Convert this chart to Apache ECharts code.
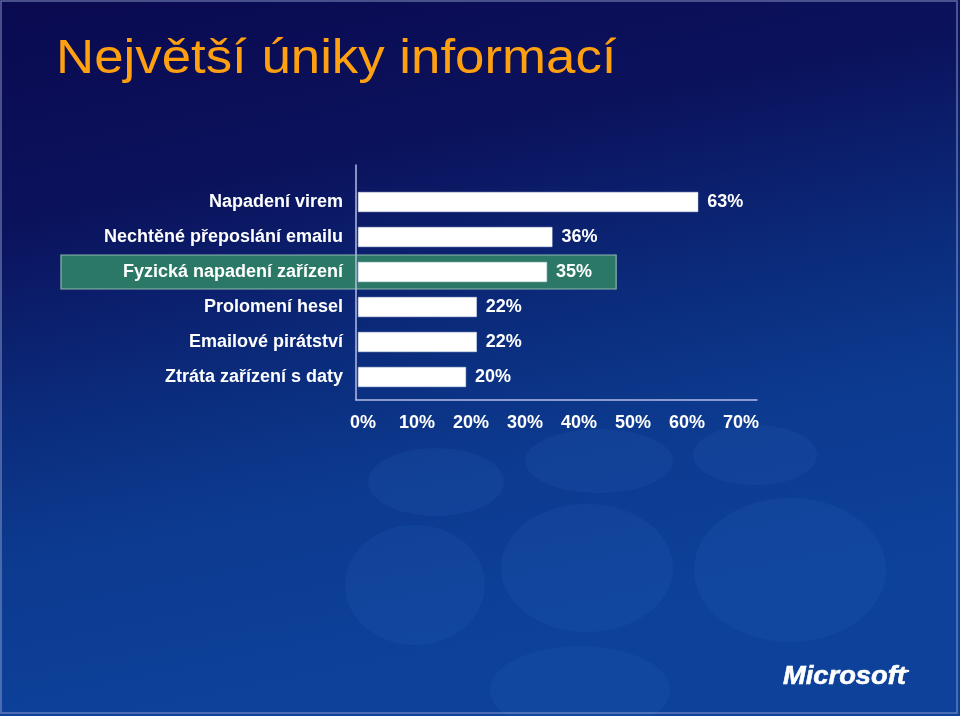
<!DOCTYPE html>
<html>
<head>
<meta charset="utf-8">
<script src="https://cdn.jsdelivr.net/npm/echarts@6/dist/echarts.min.js"></script>
<style>
html,body{margin:0;padding:0;background:#0a0a52;}
#c{width:960px;height:716px;}
</style>
</head>
<body>
<div id="c"></div>
<script>
// ---- data ----
const titleText = 'Největší úniky informací';
const categories = [
  'Napadení virem',
  'Nechtěné přeposlání emailu',
  'Fyzická napadení zařízení',
  'Prolomení hesel',
  'Emailové pirátství',
  'Ztráta zařízení s daty'
];
const values = [63, 36, 35, 22, 22, 20];
const axisMin = 0;
const axisMax = 70;
const axisStep = 10;
const highlightCategory = 'Fyzická napadení zařízení';
const highlightEndValue = 47.8;

const chart = echarts.init(document.getElementById('c'), null, {renderer: 'canvas'});

const shadow = {
  textShadowColor: 'rgba(0,0,20,0.85)',
  textShadowOffsetX: 1.5,
  textShadowOffsetY: 1.5,
  textShadowBlur: 0
};
const labelFont = {
  color: '#ffffff',
  fontFamily: 'Liberation Sans, Arial, sans-serif',
  fontWeight: 'bold',
  fontSize: 18
};

function bgShapes() {
  const fill = 'rgba(70,130,220,0.10)';
  const list = [
    {cx: 599, cy: 461, rx: 74, ry: 32},
    {cx: 587, cy: 568, rx: 86, ry: 64},
    {cx: 790, cy: 570, rx: 96, ry: 72},
    {cx: 755, cy: 455, rx: 62, ry: 30},
    {cx: 436, cy: 482, rx: 68, ry: 34},
    {cx: 580, cy: 690, rx: 90, ry: 44},
    {cx: 415, cy: 585, rx: 70, ry: 60}
  ];
  return list.map((s) => ({
    type: 'ellipse',
    shape: s,
    z: -20,
    silent: true,
    style: {fill: fill}
  }));
}

const option = {
  animation: false,
  backgroundColor: {
    type: 'linear', x: 0, y: 0, x2: 0.15, y2: 1,
    colorStops: [
      {offset: 0, color: '#0a0a50'},
      {offset: 0.3, color: '#0b125c'},
      {offset: 0.55, color: '#0b2a7a'},
      {offset: 0.75, color: '#0c3a8f'},
      {offset: 1, color: '#0d419a'}
    ]
  },
  grid: [
    {left: 358, top: 184.5, width: 378, height: 210, containLabel: false},
    {left: 356, top: 165, width: 401, height: 235, containLabel: false}
  ],
  xAxis: [
    {
      gridIndex: 0, type: 'value', min: axisMin, max: axisMax, interval: axisStep,
      axisLine: {show: false}, axisTick: {show: false}, splitLine: {show: false},
      axisLabel: Object.assign({
        formatter: '{value}%', margin: 20, padding: [0, 0, 0, 10]
      }, labelFont, shadow)
    },
    {
      gridIndex: 1, type: 'value', min: 0, max: 1, z: 8,
      axisLine: {show: true, lineStyle: {color: '#b4bce6', width: 1.5}},
      axisTick: {show: false}, splitLine: {show: false}, axisLabel: {show: false}
    }
  ],
  yAxis: [
    {
      gridIndex: 0, type: 'category', data: categories, inverse: true, z: 10,
      axisLine: {show: false}, axisTick: {show: false}, splitLine: {show: false},
      axisLabel: Object.assign({margin: 15}, labelFont, shadow)
    },
    {
      gridIndex: 1, type: 'value', min: 0, max: 1, z: 8,
      axisLine: {show: true, lineStyle: {color: '#b4bce6', width: 1.5}},
      axisTick: {show: false}, splitLine: {show: false}, axisLabel: {show: false}
    }
  ],
  series: [{
    type: 'bar',
    xAxisIndex: 0, yAxisIndex: 0,
    data: values,
    barWidth: 20,
    z: 10,
    itemStyle: {color: '#ffffff', borderColor: '#dfe6f5', borderWidth: 0.5},
    label: Object.assign({
      show: true, position: 'right', distance: 9, formatter: '{c}%'
    }, labelFont, shadow)
  }],
  graphic: bgShapes()
};

chart.setOption(option);

// decorations positioned from the axes
const hy = chart.convertToPixel({yAxisIndex: 0}, highlightCategory);
const hx = chart.convertToPixel({xAxisIndex: 0}, highlightEndValue);
chart.setOption({
  graphic: bgShapes().concat([
    {
      type: 'rect', z: -5, silent: true,
      shape: {x: 61, y: hy - 17, width: hx - 61, height: 34},
      style: {fill: '#2b7867', stroke: '#8fb7ae', lineWidth: 1.2}
    },
    {
      type: 'text', z: 20, x: 56, y: 60, scaleX: 1.1, silent: true,
      style: {
        text: titleText,
        fill: '#ffa010',
        font: 'normal 48px "Liberation Sans", Arial, sans-serif',
        verticalAlign: 'middle', align: 'left',
        shadowColor: 'rgba(0,0,0,0.95)', shadowOffsetX: 2.5, shadowOffsetY: 2.5, shadowBlur: 0
      }
    },
    {
      type: 'text', z: 20, x: 783, y: 677, scaleX: 1.05, silent: true,
      style: {
        text: 'Microsoft',
        fill: '#ffffff',
        font: 'italic bold 26px "Liberation Sans", Arial, sans-serif',
        verticalAlign: 'middle', align: 'left',
        stroke: '#ffffff', lineWidth: 0.6
      }
    },
    {
      type: 'circle', z: 20, silent: true,
      shape: {cx: 908, cy: 671, r: 1.3},
      style: {fill: '#ffffff'}
    },
    {
      type: 'rect', z: 30, silent: true,
      shape: {x: 1, y: 1, width: 956, height: 712},
      style: {fill: 'none', stroke: 'rgba(150,165,210,0.6)', lineWidth: 1.5}
    }
  ])
});
</script>
</body>
</html>
